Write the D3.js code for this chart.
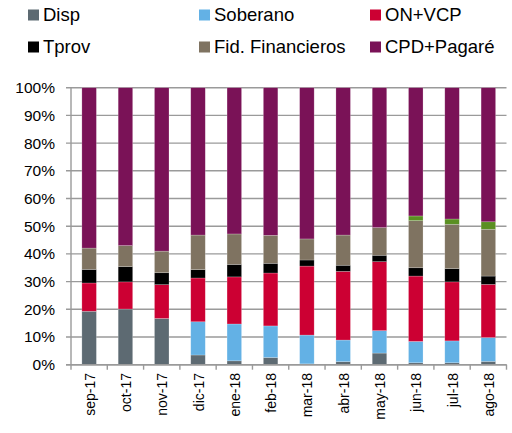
<!DOCTYPE html>
<html>
<head>
<meta charset="utf-8">
<script src="https://cdn.jsdelivr.net/npm/d3@7"></script>
<style>
  html, body { margin: 0; padding: 0; background: #fff; }
  svg { display: block; font-family: "Liberation Sans", Arial, sans-serif; }
</style>
</head>
<body>
<svg id="chart" width="512" height="433"></svg>
<script>
const categories = ["sep-17","oct-17","nov-17","dic-17","ene-18","feb-18","mar-18","abr-18","may-18","jun-18","jul-18","ago-18"];
const disp      = [19.3, 20.1, 16.7, 3.5, 1.4, 2.6, 0.3, 1.1, 4.2, 0.7, 0.7, 1.2];
const soberano  = [0, 0, 0, 12.0, 13.3, 11.4, 10.4, 7.8, 8.1, 7.7, 7.9, 8.6];
const onVcp     = [10.2, 9.8, 12.2, 15.8, 17.0, 19.1, 24.9, 24.8, 24.9, 23.6, 21.3, 19.2];
const tprov     = [4.9, 5.5, 4.3, 3.0, 4.5, 3.5, 2.2, 2.2, 2.3, 3.0, 4.8, 3.0];
const fid       = [7.7, 7.6, 7.8, 12.5, 11.0, 10.1, 7.6, 10.9, 10.0, 17.0, 16.0, 16.9];
const otros     = [0, 0, 0, 0, 0, 0, 0, 0, 0, 1.7, 1.9, 2.7];
const cpd       = [57.9, 57.0, 59.0, 53.2, 52.8, 53.3, 54.6, 53.2, 50.5, 46.3, 47.4, 48.4];
const yTicks    = [0, 10, 20, 30, 40, 50, 60, 70, 80, 90, 100];

const seriesNames = ["Disp","Soberano","ON+VCP","Tprov","Fid. Financieros","Otros","CPD+Pagaré"];
const seriesVals  = [disp, soberano, onVcp, tprov, fid, otros, cpd];
const colors = {
  "Disp": "#5d6a72",
  "Soberano": "#63b1e5",
  "ON+VCP": "#cc0033",
  "Tprov": "#000000",
  "Fid. Financieros": "#7f7361",
  "Otros": "#5a8f22",
  "CPD+Pagaré": "#7a1257"
};
const legendItems = ["Disp","Soberano","ON+VCP","Tprov","Fid. Financieros","CPD+Pagaré"];

const table = categories.map((c, i) => {
  const row = { cat: c };
  seriesNames.forEach((s, k) => { row[s] = seriesVals[k][i]; });
  return row;
});

const svg = d3.select("#chart");
const mLeft = 71, mRight = 506.5, mTop = 87.7, mBottom = 364.7;

const x = d3.scaleBand().domain(categories).range([mLeft, mRight]).paddingInner(0.6).paddingOuter(0.3);
const xb = d3.scaleBand().domain(categories).range([mLeft, mRight]).padding(0);
const y = d3.scaleLinear().domain([0, 100]).range([mBottom, mTop]);

// gridlines
svg.append("g").selectAll("line").data(yTicks).join("line")
  .attr("x1", mLeft - 5).attr("x2", mRight)
  .attr("y1", d => y(d)).attr("y2", d => y(d))
  .attr("stroke", "#9a9a9a").attr("stroke-width", 1.4);

// y axis line
svg.append("line").attr("x1", mLeft).attr("x2", mLeft).attr("y1", mTop).attr("y2", mBottom)
  .attr("stroke", "#9a9a9a").attr("stroke-width", 1.4);

// y labels
svg.append("g").selectAll("text").data(yTicks).join("text")
  .attr("x", 55).attr("y", d => y(d)).attr("dy", "0.35em")
  .attr("text-anchor", "end").attr("font-size", 15.5).attr("fill", "#000")
  .text(d => d + "%");

// stacked bars
const stack = d3.stack().keys(seriesNames)(table);
svg.append("g").selectAll("g").data(stack).join("g")
  .attr("fill", d => colors[d.key])
  .selectAll("rect").data(d => d).join("rect")
  .attr("x", d => x(d.data.cat))
  .attr("width", x.bandwidth())
  .attr("y", d => y(d[1]))
  .attr("height", d => Math.max(0, y(d[0]) - y(d[1])))
  .attr("stroke", "#ffffff").attr("stroke-opacity", 0.35).attr("stroke-width", 0.6);

// x axis line and ticks
svg.append("line").attr("x1", mLeft - 5).attr("x2", mRight).attr("y1", mBottom).attr("y2", mBottom)
  .attr("stroke", "#9a9a9a").attr("stroke-width", 1.4);
const bounds = categories.map(c => xb(c)).concat([mRight]);
svg.append("g").selectAll("line").data(bounds).join("line")
  .attr("x1", d => d).attr("x2", d => d).attr("y1", mBottom).attr("y2", mBottom + 5)
  .attr("stroke", "#9a9a9a").attr("stroke-width", 1.4);

// x labels
svg.append("g").selectAll("text").data(categories).join("text")
  .attr("transform", d => `translate(${x(d) + x.bandwidth() / 2 + 5.5},373) rotate(-90)`)
  .attr("text-anchor", "end").attr("font-size", 14).attr("fill", "#000")
  .text(d => d);

// legend
const legX = [28, 199, 370];
const legY = [15, 47];
const lg = svg.append("g").selectAll("g").data(legendItems).join("g")
  .attr("transform", (d, i) => `translate(${legX[i % 3]},${legY[Math.floor(i / 3)]})`);
lg.append("rect").attr("x", 0).attr("y", -5.5).attr("width", 11).attr("height", 11)
  .attr("fill", d => colors[d]);
lg.append("text").attr("x", 15).attr("y", 0).attr("dy", "0.35em")
  .attr("font-size", 18.5).attr("fill", "#000").text(d => d);
</script>
</body>
</html>
